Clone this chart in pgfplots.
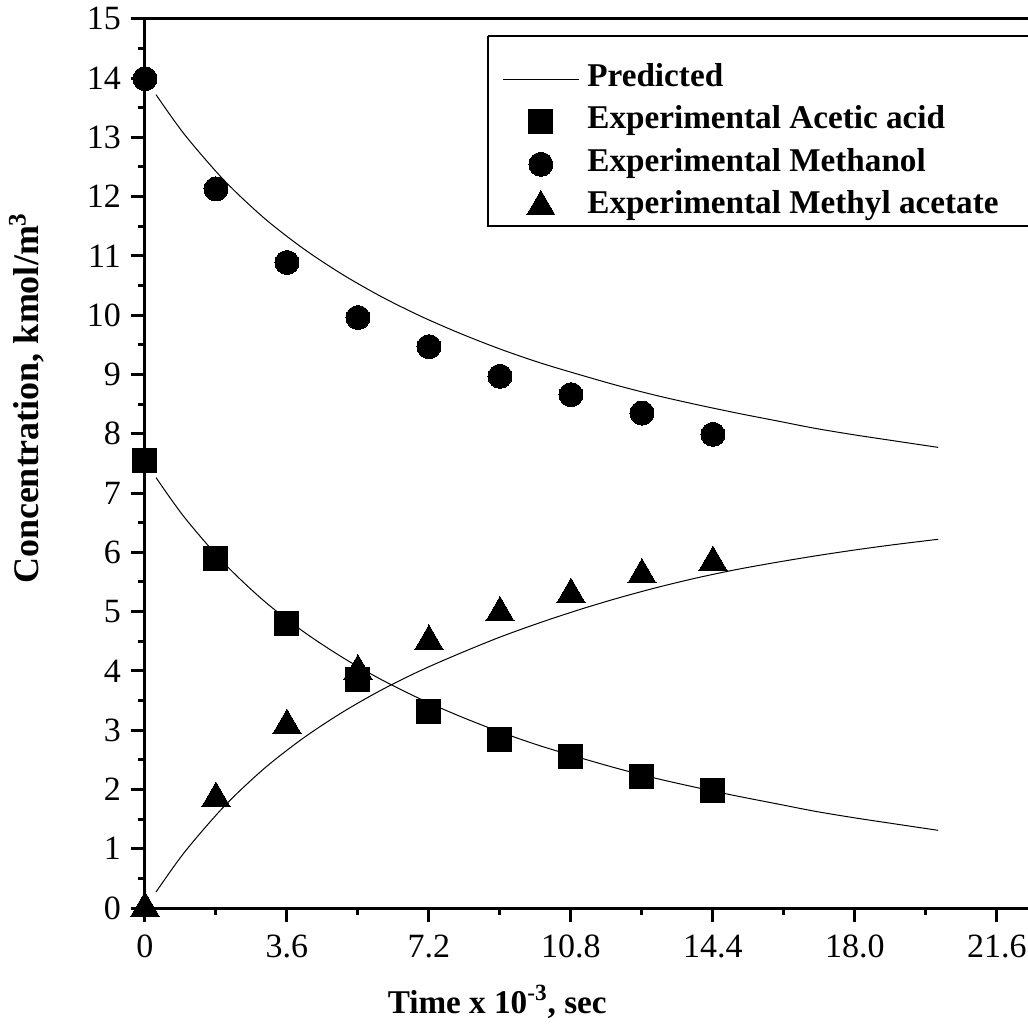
\documentclass[border=0pt]{standalone}
\usepackage{fontspec}
\setmainfont{Liberation Serif}
\usepackage{pgfplots}
\pgfplotsset{compat=1.18}
\pgfplotsset{markleg/.style={legend image code/.code={\path[draw=none,fill=none] (0pt,0pt) -- (38pt,0pt); \draw[only marks,##1] plot coordinates {(19pt,0pt)};}}}
\begin{document}
\begin{tikzpicture}
\begin{axis}[
  scale only axis, width=453.6pt, height=444.6pt,
  xmin=0, xmax=23, ymin=0, ymax=15,
  axis x line*=bottom, axis y line*=left,
  axis line style={line width=1.5pt},
  tick align=outside,
  xtick={0,3.6,7.2,10.8,14.4,18.0,21.6},
  xticklabels={0,3.6,7.2,10.8,14.4,18.0,21.6},
  ytick={0,1,...,15},
  minor x tick num=1, minor y tick num=1,
  major tick length=7pt, minor tick length=3.5pt,
  major tick style={line width=1.5pt,black},
  minor tick style={line width=1.5pt,black},
  tick label style={font=\fontsize{17}{20}\selectfont},
  xticklabel style={yshift=-3pt},
  yticklabel style={xshift=-1.5pt},
  /pgf/number format/assume math mode=true,
  clip=false,
  legend cell align=left,
  legend style={draw=none, fill=none, at={(axis cs:9.05,14.34)}, anchor=north west,
    inner sep=0pt, column sep=4pt, font=\fontsize{16.6}{20}\selectfont\bfseries,
    nodes={inner sep=0pt, text height=14pt, text depth=7.2pt}},
]
\draw[line width=1.5pt] (rel axis cs:0,1) -- (rel axis cs:1,1);
\draw[line width=1pt] (axis cs:8.70,14.71) -- (axis cs:24,14.71);
\draw[line width=1pt] (axis cs:8.70,14.71) -- (axis cs:8.70,11.50) -- (axis cs:24,11.50);

\addplot[black, line width=0.5pt, smooth, legend image code/.code={\draw[line width=0.5pt] (0pt,0pt) -- (38pt,0pt);}] table {
t c
0.28 13.72
1 13.05
2 12.28
3 11.65
4 11.13
5 10.69
6 10.31
7 9.98
8 9.69
9 9.43
10 9.20
11 9.00
12 8.81
13 8.64
14 8.49
15 8.35
16 8.22
17 8.09
18 7.98
19 7.88
20.11 7.77
};
\addlegendentry{Predicted}

\addplot[only marks, mark=square*, mark size=6pt, mark options={fill=black, draw=black, line width=0pt}, markleg] table {
t c
0 7.55
1.8 5.90
3.6 4.80
5.4 3.86
7.2 3.32
9.0 2.84
10.8 2.55
12.6 2.22
14.4 1.98
};
\addlegendentry{Experimental Acetic acid}

\addplot[only marks, mark=*, mark size=6pt, mark options={fill=black, draw=black, line width=0pt}, markleg] table {
t c
0 13.99
1.8 12.13
3.6 10.89
5.4 9.96
7.2 9.47
9.0 8.97
10.8 8.66
12.6 8.35
14.4 7.99
};
\addlegendentry{Experimental Methanol}

\addplot[only marks, mark=triangle*, mark size=8.15pt, mark options={fill=black, draw=black, line width=0pt}, markleg] table {
t c
0 0.0
1.8 1.85
3.6 3.08
5.4 4.00
7.2 4.50
9.0 4.98
10.8 5.29
12.6 5.62
14.4 5.83
};
\addlegendentry{Experimental Methyl acetate}

\addplot[black, line width=0.5pt, smooth, forget plot] table {
t c
0.28 7.26
1 6.59
2 5.82
3 5.19
4 4.67
5 4.23
6 3.85
7 3.52
8 3.23
9 2.97
10 2.74
11 2.54
12 2.35
13 2.18
14 2.03
15 1.89
16 1.76
17 1.63
18 1.52
19 1.42
20.11 1.31
};

\addplot[black, line width=0.5pt, smooth, forget plot] table {
t c
0.28 0.27
1 0.94
2 1.71
3 2.34
4 2.86
5 3.30
6 3.68
7 4.01
8 4.30
9 4.57
10 4.81
11 5.03
12 5.23
13 5.41
14 5.57
15 5.71
16 5.83
17 5.94
18 6.04
19 6.13
20.11 6.22
};

\node[font=\fontsize{16.6}{20}\selectfont\bfseries, anchor=base] at (axis cs:8.93,-1.775) {Time x 10\textsuperscript{-3}, sec};
\node[font=\fontsize{18}{21}\selectfont\bfseries, anchor=base, rotate=90] at (axis cs:-2.71,8.6) {Concentration, kmol/m\textsuperscript{3}};
\end{axis}
\pgfresetboundingbox
\useasboundingbox (-72.5pt,-58pt) rectangle (441.5pt,454pt);
\end{tikzpicture}
\end{document}
